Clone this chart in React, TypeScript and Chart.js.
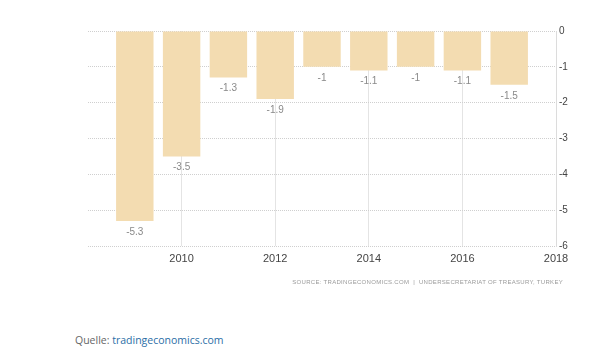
import React, { useEffect, useRef } from "react";
import { Chart, registerables } from "chart.js";

Chart.register(...registerables);

const years = [2009, 2010, 2011, 2012, 2013, 2014, 2015, 2016, 2017];
const values = [-5.3, -3.5, -1.3, -1.9, -1, -1.1, -1, -1.1, -1.5];
const valueLabels = ["-5.3", "-3.5", "-1.3", "-1.9", "-1", "-1.1", "-1", "-1.1", "-1.5"];
const xTickValues = [2010, 2012, 2014, 2016, 2018];
const yTickValues = [0, -1, -2, -3, -4, -5, -6];
const sourceText = "SOURCE: TRADINGECONOMICS.COM  |  UNDERSECRETARIAT OF TREASURY, TURKEY";

const FONT = "'Liberation Sans', Arial, sans-serif";

const valueLabelPlugin = {
  id: "valueLabels",
  afterDatasetsDraw(chart: any) {
    const ctx = chart.ctx;
    const meta = chart.getDatasetMeta(0);
    ctx.save();
    ctx.font = `10px ${FONT}`;
    ctx.fillStyle = "#8a8a8a";
    ctx.textAlign = "center";
    ctx.textBaseline = "middle";
    meta.data.forEach((bar: any, i: number) => {
      ctx.fillText(valueLabels[i], bar.x, bar.y + 11);
    });
    ctx.restore();
  },
};

export default function App() {
  const ref = useRef<HTMLCanvasElement>(null);
  useEffect(() => {
    if (!ref.current) return;
    const chart = new Chart(ref.current, {
      type: "bar",
      data: {
        datasets: [
          {
            data: years.map((y, i) => ({ x: y, y: values[i] })),
            backgroundColor: "#f3dcb1",
            borderWidth: 0,
            barPercentage: 0.8,
            categoryPercentage: 1,
          },
        ],
      },
      plugins: [valueLabelPlugin],
      options: {
        responsive: false,
        animation: false,
        maintainAspectRatio: false,
        layout: { padding: { left: 88, top: 31, right: 14, bottom: 34 } },
        plugins: { legend: { display: false }, tooltip: { enabled: false } },
        scales: {
          x: {
            type: "linear",
            min: 2008,
            max: 2018,
            offset: false,
            afterBuildTicks: (axis: any) => {
              axis.ticks = xTickValues.map((v) => ({ value: v }));
            },
            afterFit: (axis: any) => {
              axis.height = 20;
            },
            ticks: {
              callback: (v: any) => String(v),
              color: "#444",
              font: { size: 11, family: FONT },
              padding: 6,
              maxRotation: 0,
            },
            grid: {
              offset: false,
              color: (c: any) => (c.tick && c.tick.value === 2018 ? "rgba(0,0,0,0)" : "#e4e4e4"),
              drawTicks: false,
              lineWidth: 1,
            },
            border: { display: false },
          },
          y: {
            position: "right",
            min: -6,
            max: 0,
            afterBuildTicks: (axis: any) => {
              axis.ticks = yTickValues.map((v) => ({ value: v }));
            },
            afterFit: (axis: any) => {
              axis.width = 40;
            },
            ticks: {
              callback: (v: any) => String(v),
              color: "#444",
              font: { size: 10, family: FONT },
              padding: 3,
            },
            grid: {
              color: "#cfcfcf",
              drawTicks: false,
              lineWidth: 1,
            },
            border: { display: true, color: "#dcdcdc", dash: [1, 1] },
          },
        },
      } as any,
    });
    return () => chart.destroy();
  }, []);

  return (
    <div style={{ position: "absolute", left: 0, top: 0, width: 610, height: 354, background: "#fff" }}>
      <canvas ref={ref} width={610} height={300} style={{ position: "absolute", left: 0, top: 0, width: 610, height: 300 }} />
      <div
        style={{
          position: "absolute",
          right: 610 - 563,
          top: 279,
          fontFamily: FONT,
          fontSize: 6,
          letterSpacing: 0.3,
          color: "#9a9a9a",
          whiteSpace: "pre",
        }}
      >
        {sourceText}
      </div>
      <div
        style={{
          position: "absolute",
          left: 75,
          top: 333,
          fontFamily: "'Open Sans', sans-serif",
          fontSize: 10.5,
          color: "#666",
          whiteSpace: "pre",
        }}
      >
        Quelle: <span style={{ color: "#2b6ea6" }}>tradingeconomics.com</span>
      </div>
    </div>
  );
}
